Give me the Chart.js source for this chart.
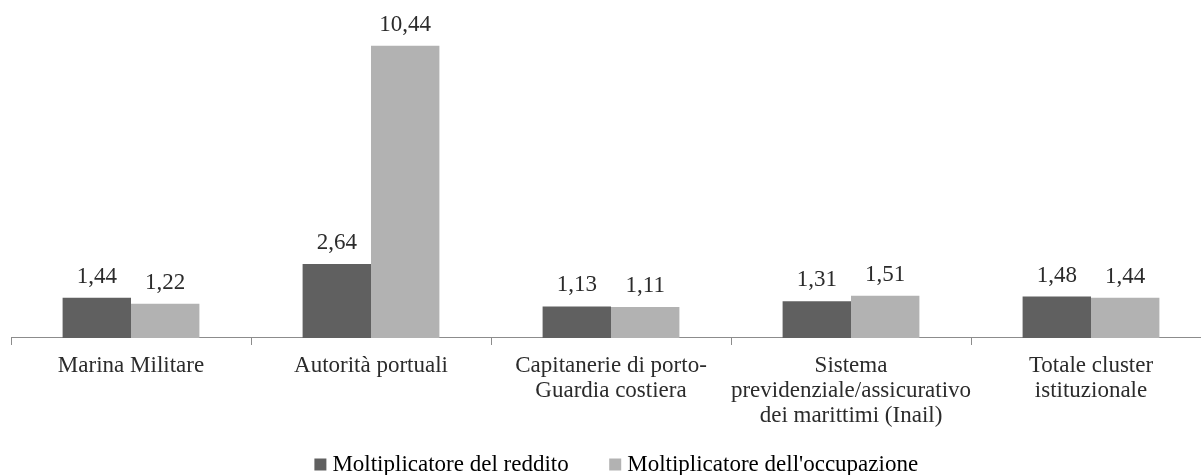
<!DOCTYPE html>
<html>
<head>
<meta charset="utf-8">
<script src="https://cdn.jsdelivr.net/npm/chart.js@4.4.1/dist/chart.umd.min.js"></script>
<style>
html,body{margin:0;padding:0;background:#fff;overflow:hidden;}
#wrap{position:relative;width:1211px;height:486px;}
</style>
</head>
<body>
<div id="wrap"><canvas id="c"></canvas></div>
<script>
const categories = [
  "Marina Militare",
  "Autorità portuali",
  ["Capitanerie di porto-", "Guardia costiera"],
  ["Sistema", "previdenziale/assicurativo", "dei marittimi (Inail)"],
  ["Totale cluster", "istituzionale"]
];
const seriesNames = ["Moltiplicatore del reddito", "Moltiplicatore dell'occupazione"];
const reddito = [1.44, 2.64, 1.13, 1.31, 1.48];
const occupazione = [1.22, 10.44, 1.11, 1.51, 1.44];

const FONT = "'Liberation Serif', 'Times New Roman', serif";

const labelPlugin = {
  id: 'valueLabels',
  afterLayout(chart) {
    if (chart.legend) { chart.legend.left += 8; chart.legend.right += 8; }
  },
  afterDatasetsDraw(chart) {
    const ctx = chart.ctx;
    ctx.save();
    ctx.font = "23px " + FONT;
    ctx.fillStyle = "#2b2b2b";
    ctx.textAlign = "center";
    ctx.textBaseline = "alphabetic";
    chart.data.datasets.forEach((ds, di) => {
      const meta = chart.getDatasetMeta(di);
      meta.data.forEach((bar, i) => {
        const txt = ds.data[i].toFixed(2).replace('.', ',');
        ctx.fillText(txt, bar.x, bar.y - 15);
      });
    });
    ctx.restore();
  }
};

new Chart(document.getElementById('c'), {
  type: 'bar',
  data: {
    labels: categories,
    datasets: [
      { label: seriesNames[0], data: reddito, backgroundColor: '#606060', borderWidth: 0 },
      { label: seriesNames[1], data: occupazione, backgroundColor: '#b2b2b2', borderWidth: 0 }
    ]
  },
  options: {
    responsive: true,
    maintainAspectRatio: false,
    animation: false,
    layout: { padding: { left: 11, right: 0, top: 5, bottom: 0 } },
    datasets: { bar: { categoryPercentage: 0.57, barPercentage: 1.0 } },
    scales: {
      x: {
        grid: { display: true, drawOnChartArea: false, drawTicks: true, tickLength: 7, color: '#8c8c8c', offset: true },
        border: { display: true, color: '#8c8c8c', width: 1 },
        ticks: { color: '#2b2b2b', font: { family: FONT, size: 23, lineHeight: 1.087 }, padding: 8, maxRotation: 0, autoSkip: false },
        afterFit(scale) { scale.height += 17; }
      },
      y: {
        display: false,
        min: 0,
        max: 11.9
      }
    },
    plugins: {
      legend: {
        position: 'bottom',
        labels: {
          usePointStyle: true,
          pointStyle: 'rect',
          boxWidth: 1,
          boxHeight: 12,
          padding: 0,
          color: '#2b2b2b',
          font: { family: FONT, size: 23 },
          generateLabels(chart) {
            return chart.data.datasets.map((ds, i) => ({
              text: ds.label + (i === 0 ? '\u2003\u2003' : ''),
              fillStyle: ds.backgroundColor,
              strokeStyle: ds.backgroundColor,
              lineWidth: 0,
              pointStyle: 'rect',
              hidden: false,
              datasetIndex: i
            }));
          }
        }
      },
      tooltip: { enabled: false }
    }
  },
  plugins: [labelPlugin]
});
</script>
</body>
</html>
